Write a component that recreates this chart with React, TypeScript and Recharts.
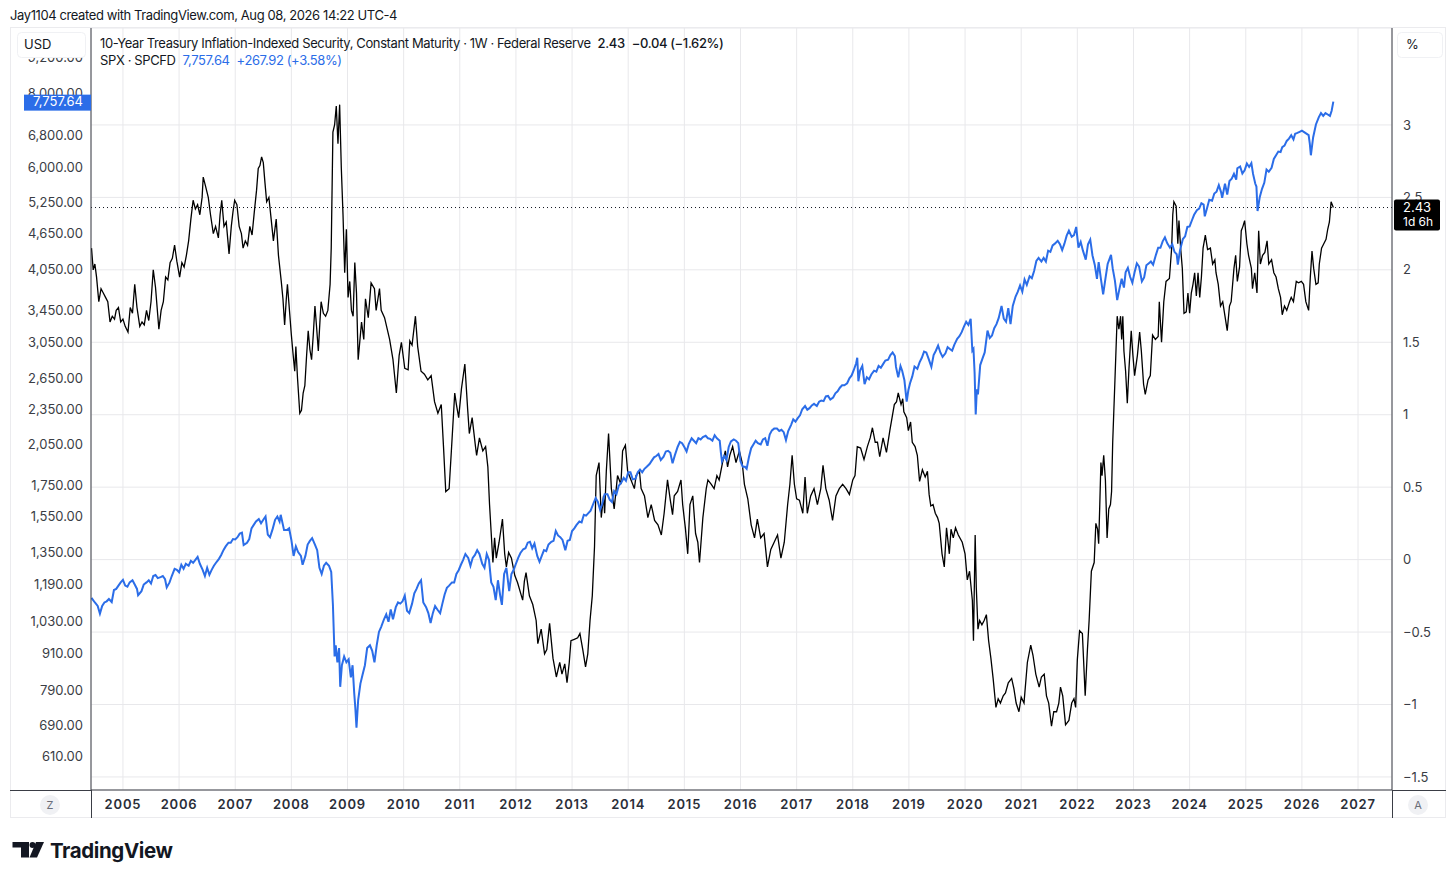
import { ComposedChart, Line, XAxis, YAxis, CartesianGrid, ReferenceLine } from 'recharts';

// 10-Year TIPS yield, weekly (year, %)
const tipsPoints: [number, number][] = [
  [2004.44, 2.15], [2004.47, 2.0], [2004.5, 2.04], [2004.53, 1.95], [2004.57, 1.78], [2004.61, 1.87], [2004.65, 1.84],
  [2004.69, 1.81], [2004.73, 1.78], [2004.77, 1.64], [2004.81, 1.68], [2004.85, 1.66], [2004.88, 1.72], [2004.92, 1.74],
  [2004.96, 1.64], [2005.0, 1.66], [2005.04, 1.61], [2005.09, 1.57], [2005.13, 1.74], [2005.17, 1.7], [2005.21, 1.9],
  [2005.25, 1.74], [2005.3, 1.61], [2005.34, 1.64], [2005.38, 1.62], [2005.42, 1.72], [2005.46, 1.65], [2005.5, 1.78],
  [2005.54, 2.0], [2005.58, 1.88], [2005.64, 1.59], [2005.68, 1.72], [2005.72, 1.78], [2005.76, 1.95], [2005.8, 1.93],
  [2005.84, 2.05], [2005.88, 2.08], [2005.92, 2.17], [2005.96, 2.06], [2006.01, 1.95], [2006.05, 2.05], [2006.09, 2.02],
  [2006.13, 2.1], [2006.17, 2.2], [2006.21, 2.35], [2006.25, 2.48], [2006.29, 2.42], [2006.33, 2.45], [2006.37, 2.38],
  [2006.41, 2.5], [2006.43, 2.64], [2006.47, 2.58], [2006.52, 2.5], [2006.56, 2.38], [2006.61, 2.25], [2006.65, 2.3],
  [2006.7, 2.22], [2006.73, 2.38], [2006.76, 2.48], [2006.8, 2.3], [2006.84, 2.33], [2006.89, 2.11], [2006.93, 2.3],
  [2006.96, 2.4], [2006.99, 2.48], [2007.03, 2.45], [2007.07, 2.3], [2007.11, 2.25], [2007.14, 2.15], [2007.18, 2.2],
  [2007.22, 2.17], [2007.26, 2.3], [2007.3, 2.24], [2007.34, 2.4], [2007.38, 2.55], [2007.41, 2.7], [2007.44, 2.72],
  [2007.47, 2.78], [2007.5, 2.74], [2007.53, 2.6], [2007.56, 2.47], [2007.6, 2.5], [2007.64, 2.35], [2007.68, 2.2],
  [2007.73, 2.35], [2007.77, 2.1], [2007.82, 1.92], [2007.85, 1.8], [2007.88, 1.62], [2007.91, 1.8], [2007.93, 1.9],
  [2007.97, 1.7], [2008.0, 1.55], [2008.03, 1.42], [2008.06, 1.3], [2008.08, 1.47], [2008.11, 1.25], [2008.15, 1.01],
  [2008.18, 1.03], [2008.21, 1.15], [2008.24, 1.2], [2008.27, 1.4], [2008.3, 1.58], [2008.33, 1.45], [2008.36, 1.38],
  [2008.39, 1.55], [2008.42, 1.75], [2008.45, 1.6], [2008.48, 1.44], [2008.51, 1.65], [2008.53, 1.78], [2008.57, 1.7],
  [2008.61, 1.68], [2008.65, 1.72], [2008.69, 1.9], [2008.71, 2.15], [2008.74, 2.95], [2008.77, 3.0], [2008.8, 3.13],
  [2008.83, 2.87], [2008.86, 3.14], [2008.89, 2.7], [2008.92, 2.38], [2008.95, 1.98], [2008.98, 2.28], [2009.01, 1.81],
  [2009.04, 1.92], [2009.07, 1.72], [2009.1, 1.68], [2009.13, 2.05], [2009.16, 1.84], [2009.19, 1.38], [2009.25, 1.64],
  [2009.29, 1.52], [2009.32, 1.8], [2009.37, 1.67], [2009.42, 1.91], [2009.48, 1.87], [2009.51, 1.72], [2009.57, 1.87],
  [2009.6, 1.72], [2009.66, 1.67], [2009.75, 1.52], [2009.81, 1.38], [2009.87, 1.15], [2009.92, 1.41], [2009.96, 1.5],
  [2010.02, 1.32], [2010.08, 1.31], [2010.11, 1.51], [2010.15, 1.48], [2010.21, 1.68], [2010.25, 1.47], [2010.31, 1.3],
  [2010.37, 1.28], [2010.43, 1.24], [2010.49, 1.27], [2010.55, 1.09], [2010.61, 1.01], [2010.67, 1.07], [2010.71, 0.78],
  [2010.75, 0.47], [2010.81, 0.49], [2010.85, 0.75], [2010.91, 1.15], [2010.94, 1.07], [2010.98, 0.98], [2011.03, 1.18],
  [2011.09, 1.35], [2011.14, 1.04], [2011.17, 0.87], [2011.22, 0.98], [2011.28, 0.78], [2011.3, 0.72], [2011.35, 0.84],
  [2011.41, 0.75], [2011.46, 0.78], [2011.5, 0.64], [2011.53, 0.38], [2011.56, 0.18], [2011.59, -0.02], [2011.62, 0.15],
  [2011.65, 0.01], [2011.7, 0.12], [2011.76, 0.28], [2011.8, 0.04], [2011.83, -0.05], [2011.87, 0.05], [2011.92, 0.01],
  [2011.98, -0.11], [2012.03, -0.16], [2012.09, -0.24], [2012.12, -0.28], [2012.15, -0.15], [2012.18, -0.09],
  [2012.24, -0.25], [2012.3, -0.31], [2012.36, -0.42], [2012.39, -0.58], [2012.45, -0.48], [2012.51, -0.65],
  [2012.55, -0.62], [2012.6, -0.44], [2012.66, -0.68], [2012.72, -0.81], [2012.78, -0.71], [2012.82, -0.79],
  [2012.87, -0.72], [2012.91, -0.85], [2012.95, -0.71], [2012.98, -0.56], [2013.04, -0.55], [2013.1, -0.54],
  [2013.14, -0.51], [2013.19, -0.62], [2013.24, -0.74], [2013.28, -0.65], [2013.32, -0.42], [2013.36, -0.25],
  [2013.4, 0.09], [2013.43, 0.58], [2013.48, 0.67], [2013.52, 0.29], [2013.56, 0.44], [2013.58, 0.32], [2013.61, 0.61],
  [2013.65, 0.87], [2013.7, 0.49], [2013.75, 0.35], [2013.81, 0.58], [2013.87, 0.52], [2013.9, 0.75], [2013.95, 0.79],
  [2013.99, 0.61], [2014.05, 0.55], [2014.11, 0.49], [2014.14, 0.58], [2014.2, 0.61], [2014.23, 0.49], [2014.29, 0.44],
  [2014.35, 0.29], [2014.41, 0.38], [2014.47, 0.27], [2014.53, 0.24], [2014.59, 0.17], [2014.64, 0.32], [2014.7, 0.55],
  [2014.75, 0.41], [2014.79, 0.31], [2014.82, 0.44], [2014.88, 0.47], [2014.94, 0.55], [2014.97, 0.38], [2015.02, 0.21],
  [2015.06, 0.04], [2015.1, 0.38], [2015.15, 0.44], [2015.2, 0.18], [2015.24, 0.12], [2015.27, -0.02], [2015.33, 0.29],
  [2015.39, 0.49], [2015.42, 0.55], [2015.48, 0.52], [2015.53, 0.49], [2015.58, 0.58], [2015.62, 0.55], [2015.68, 0.67],
  [2015.73, 0.75], [2015.77, 0.64], [2015.81, 0.72], [2015.86, 0.78], [2015.92, 0.67], [2015.98, 0.75], [2016.03, 0.67],
  [2016.07, 0.52], [2016.13, 0.42], [2016.19, 0.24], [2016.25, 0.15], [2016.3, 0.28], [2016.36, 0.15], [2016.42, 0.18],
  [2016.48, -0.05], [2016.54, 0.07], [2016.6, 0.12], [2016.66, 0.17], [2016.72, 0.01], [2016.78, 0.12], [2016.84, 0.38],
  [2016.88, 0.52], [2016.92, 0.72], [2016.96, 0.52], [2017.0, 0.42], [2017.05, 0.41], [2017.11, 0.32], [2017.15, 0.57],
  [2017.19, 0.32], [2017.25, 0.44], [2017.31, 0.49], [2017.37, 0.38], [2017.43, 0.49], [2017.47, 0.65], [2017.52, 0.49],
  [2017.58, 0.41], [2017.64, 0.27], [2017.7, 0.44], [2017.76, 0.49], [2017.82, 0.52], [2017.88, 0.49], [2017.94, 0.45],
  [2018.0, 0.55], [2018.04, 0.58], [2018.08, 0.78], [2018.14, 0.77], [2018.2, 0.69], [2018.26, 0.78], [2018.31, 0.84],
  [2018.35, 0.91], [2018.4, 0.81], [2018.44, 0.81], [2018.48, 0.71], [2018.54, 0.84], [2018.6, 0.74], [2018.66, 0.89],
  [2018.74, 1.07], [2018.78, 1.09], [2018.81, 1.15], [2018.86, 1.07], [2018.89, 1.11], [2018.91, 1.02], [2018.96, 0.98],
  [2018.99, 0.89], [2019.03, 0.95], [2019.06, 0.81], [2019.11, 0.78], [2019.15, 0.72], [2019.19, 0.54], [2019.24, 0.62],
  [2019.29, 0.57], [2019.33, 0.61], [2019.36, 0.45], [2019.39, 0.37], [2019.43, 0.38], [2019.47, 0.32], [2019.51, 0.29],
  [2019.54, 0.25], [2019.59, 0.04], [2019.63, -0.05], [2019.67, 0.22], [2019.72, 0.04], [2019.75, 0.21], [2019.79, 0.15],
  [2019.83, 0.22], [2019.88, 0.17], [2019.95, 0.12], [2020.0, 0.04], [2020.04, -0.14], [2020.08, -0.08], [2020.13, -0.28],
  [2020.15, -0.56], [2020.18, 0.17], [2020.2, -0.19], [2020.23, -0.48], [2020.26, -0.42], [2020.3, -0.45], [2020.34, -0.42],
  [2020.38, -0.38], [2020.42, -0.56], [2020.46, -0.68], [2020.5, -0.82], [2020.55, -1.02], [2020.59, -0.96], [2020.63, -0.99],
  [2020.68, -0.94], [2020.72, -0.92], [2020.77, -0.85], [2020.83, -0.82], [2020.87, -0.89], [2020.91, -0.99], [2020.96, -1.05],
  [2021.0, -0.95], [2021.05, -0.99], [2021.11, -0.71], [2021.17, -0.59], [2021.21, -0.66], [2021.26, -0.79], [2021.32, -0.88],
  [2021.36, -0.81], [2021.41, -0.79], [2021.45, -0.94], [2021.49, -0.99], [2021.54, -1.15], [2021.58, -1.05], [2021.63, -1.05],
  [2021.67, -0.99], [2021.7, -0.88], [2021.74, -0.94], [2021.79, -1.14], [2021.85, -1.11], [2021.9, -0.99], [2021.94, -0.96],
  [2021.97, -1.02], [2022.0, -0.69], [2022.04, -0.49], [2022.09, -0.51], [2022.14, -0.94], [2022.18, -0.62], [2022.21, -0.42],
  [2022.25, -0.08], [2022.3, -0.02], [2022.33, 0.25], [2022.36, 0.21], [2022.38, 0.11], [2022.4, 0.38], [2022.42, 0.67],
  [2022.44, 0.58], [2022.47, 0.72], [2022.5, 0.55], [2022.53, 0.15], [2022.56, 0.35], [2022.59, 0.38], [2022.61, 0.47],
  [2022.63, 0.81], [2022.67, 1.24], [2022.71, 1.68], [2022.74, 1.59], [2022.77, 1.68], [2022.79, 1.52], [2022.81, 1.68],
  [2022.83, 1.44], [2022.86, 1.3], [2022.89, 1.08], [2022.92, 1.32], [2022.96, 1.58], [2022.99, 1.41], [2023.02, 1.27],
  [2023.07, 1.41], [2023.11, 1.57], [2023.14, 1.44], [2023.18, 1.21], [2023.21, 1.14], [2023.26, 1.24], [2023.3, 1.27],
  [2023.34, 1.55], [2023.39, 1.52], [2023.44, 1.54], [2023.46, 1.78], [2023.5, 1.5], [2023.54, 1.78], [2023.58, 1.92],
  [2023.64, 1.94], [2023.68, 2.15], [2023.7, 2.38], [2023.72, 2.47], [2023.76, 2.44], [2023.79, 2.18], [2023.81, 2.34],
  [2023.84, 2.15], [2023.87, 2.01], [2023.9, 1.7], [2023.94, 1.71], [2023.97, 1.84], [2024.0, 1.7], [2024.03, 1.84],
  [2024.06, 1.9], [2024.09, 1.98], [2024.12, 1.82], [2024.15, 1.98], [2024.18, 1.81], [2024.21, 1.95], [2024.24, 2.15],
  [2024.28, 2.24], [2024.32, 2.14], [2024.37, 2.15], [2024.41, 2.04], [2024.45, 2.07], [2024.47, 1.98], [2024.51, 1.9],
  [2024.55, 1.75], [2024.59, 1.78], [2024.63, 1.68], [2024.67, 1.58], [2024.71, 1.75], [2024.74, 1.78], [2024.79, 2.01],
  [2024.82, 2.1], [2024.85, 1.92], [2024.89, 2.02], [2024.92, 2.27], [2024.95, 2.3], [2024.98, 2.34], [2025.02, 2.18],
  [2025.05, 2.1], [2025.1, 2.01], [2025.12, 1.87], [2025.16, 1.98], [2025.2, 1.84], [2025.23, 2.27], [2025.26, 2.04],
  [2025.3, 2.1], [2025.34, 2.12], [2025.38, 2.2], [2025.41, 2.04], [2025.46, 2.07], [2025.5, 1.98], [2025.54, 1.95],
  [2025.58, 1.87], [2025.62, 1.81], [2025.65, 1.69], [2025.69, 1.75], [2025.73, 1.72], [2025.78, 1.78], [2025.81, 1.81],
  [2025.85, 1.78], [2025.9, 1.92], [2025.94, 1.91], [2025.99, 1.92], [2026.03, 1.9], [2026.07, 1.78], [2026.12, 1.72],
  [2026.15, 1.95], [2026.18, 2.13], [2026.21, 2.01], [2026.25, 1.9], [2026.29, 1.91], [2026.31, 2.04], [2026.35, 2.15],
  [2026.39, 2.18], [2026.43, 2.21], [2026.46, 2.28], [2026.49, 2.33], [2026.52, 2.47], [2026.56, 2.43],
];

// SPX, weekly closes (year, USD)
const spxPoints: [number, number][] = [
  [2004.44, 1130], [2004.5, 1110], [2004.55, 1095], [2004.59, 1063], [2004.63, 1095], [2004.67, 1110], [2004.71, 1115],
  [2004.75, 1125], [2004.8, 1112], [2004.84, 1165], [2004.88, 1170], [2004.92, 1185], [2004.96, 1200], [2005.0, 1212],
  [2005.04, 1185], [2005.08, 1180], [2005.12, 1200], [2005.17, 1210], [2005.21, 1190], [2005.25, 1170], [2005.27, 1142],
  [2005.33, 1160], [2005.37, 1190], [2005.42, 1200], [2005.46, 1210], [2005.5, 1195], [2005.54, 1230], [2005.58, 1235],
  [2005.62, 1220], [2005.67, 1225], [2005.71, 1230], [2005.75, 1215], [2005.78, 1177], [2005.83, 1200], [2005.87, 1230],
  [2005.92, 1265], [2005.96, 1260], [2006.0, 1248], [2006.04, 1285], [2006.08, 1265], [2006.12, 1290], [2006.17, 1280],
  [2006.21, 1305], [2006.25, 1295], [2006.29, 1310], [2006.33, 1325], [2006.37, 1290], [2006.42, 1260], [2006.46, 1230],
  [2006.5, 1270], [2006.54, 1236], [2006.58, 1260], [2006.62, 1280], [2006.67, 1300], [2006.71, 1315], [2006.75, 1335],
  [2006.79, 1360], [2006.83, 1380], [2006.88, 1400], [2006.92, 1400], [2006.96, 1420], [2007.0, 1418], [2007.04, 1430],
  [2007.08, 1450], [2007.12, 1455], [2007.15, 1387], [2007.21, 1400], [2007.25, 1420], [2007.29, 1480], [2007.33, 1500],
  [2007.37, 1520], [2007.42, 1535], [2007.46, 1510], [2007.5, 1530], [2007.54, 1550], [2007.58, 1445], [2007.62, 1430],
  [2007.67, 1480], [2007.71, 1530], [2007.75, 1550], [2007.79, 1520], [2007.81, 1560], [2007.87, 1470], [2007.92, 1470],
  [2007.96, 1480], [2008.0, 1415], [2008.04, 1330], [2008.08, 1380], [2008.12, 1350], [2008.17, 1330], [2008.2, 1285],
  [2008.25, 1330], [2008.29, 1390], [2008.33, 1410], [2008.37, 1425], [2008.42, 1390], [2008.46, 1360], [2008.5, 1270],
  [2008.54, 1240], [2008.58, 1280], [2008.62, 1295], [2008.67, 1280], [2008.71, 1250], [2008.74, 1100], [2008.77, 900],
  [2008.79, 940], [2008.82, 880], [2008.85, 930], [2008.87, 800], [2008.9, 870], [2008.94, 900], [2008.98, 880],
  [2009.02, 890], [2009.06, 830], [2009.09, 870], [2009.12, 780], [2009.14, 735], [2009.16, 683], [2009.19, 760],
  [2009.23, 810], [2009.27, 840], [2009.31, 870], [2009.35, 930], [2009.4, 940], [2009.44, 920], [2009.48, 880],
  [2009.52, 940], [2009.56, 990], [2009.6, 1010], [2009.65, 1040], [2009.69, 1060], [2009.73, 1030], [2009.77, 1080],
  [2009.81, 1040], [2009.86, 1090], [2009.9, 1110], [2009.94, 1105], [2009.98, 1115], [2010.02, 1140], [2010.06, 1075],
  [2010.1, 1065], [2010.15, 1105], [2010.19, 1150], [2010.23, 1170], [2010.27, 1195], [2010.31, 1210], [2010.35, 1110],
  [2010.4, 1090], [2010.44, 1065], [2010.48, 1025], [2010.52, 1065], [2010.56, 1095], [2010.6, 1080], [2010.65, 1065],
  [2010.69, 1105], [2010.73, 1145], [2010.77, 1175], [2010.81, 1185], [2010.86, 1200], [2010.9, 1200], [2010.94, 1240],
  [2010.98, 1258], [2011.02, 1285], [2011.06, 1310], [2011.1, 1340], [2011.15, 1320], [2011.19, 1280], [2011.23, 1320],
  [2011.27, 1335], [2011.31, 1360], [2011.35, 1340], [2011.4, 1290], [2011.44, 1270], [2011.48, 1340], [2011.52, 1310],
  [2011.56, 1200], [2011.6, 1180], [2011.64, 1120], [2011.68, 1210], [2011.72, 1140], [2011.75, 1100], [2011.79, 1240],
  [2011.83, 1270], [2011.88, 1160], [2011.92, 1240], [2011.96, 1260], [2012.0, 1290], [2012.04, 1320], [2012.08, 1345],
  [2012.13, 1365], [2012.17, 1370], [2012.21, 1400], [2012.25, 1405], [2012.29, 1370], [2012.33, 1395], [2012.38, 1330],
  [2012.42, 1300], [2012.46, 1330], [2012.5, 1360], [2012.54, 1355], [2012.58, 1390], [2012.63, 1405], [2012.67, 1410],
  [2012.71, 1465], [2012.75, 1440], [2012.79, 1430], [2012.83, 1415], [2012.88, 1360], [2012.92, 1410], [2012.96, 1415],
  [2013.0, 1465], [2013.04, 1480], [2013.08, 1500], [2013.13, 1520], [2013.17, 1515], [2013.21, 1560], [2013.25, 1555],
  [2013.29, 1570], [2013.33, 1585], [2013.38, 1630], [2013.42, 1665], [2013.46, 1640], [2013.5, 1590], [2013.54, 1630],
  [2013.58, 1690], [2013.63, 1690], [2013.67, 1655], [2013.71, 1640], [2013.75, 1710], [2013.79, 1690], [2013.83, 1745],
  [2013.88, 1770], [2013.92, 1800], [2013.96, 1780], [2014.0, 1840], [2014.04, 1840], [2014.08, 1790], [2014.13, 1795],
  [2014.17, 1840], [2014.21, 1860], [2014.25, 1840], [2014.29, 1865], [2014.33, 1880], [2014.38, 1900], [2014.42, 1925],
  [2014.46, 1950], [2014.5, 1960], [2014.54, 1975], [2014.58, 1930], [2014.63, 1955], [2014.67, 1995], [2014.71, 2000],
  [2014.75, 1985], [2014.79, 1905], [2014.83, 1965], [2014.88, 2030], [2014.92, 2070], [2014.96, 2060], [2015.0, 2030],
  [2015.04, 1995], [2015.08, 2055], [2015.13, 2100], [2015.17, 2080], [2015.21, 2060], [2015.25, 2100], [2015.29, 2090],
  [2015.33, 2110], [2015.38, 2120], [2015.42, 2100], [2015.46, 2095], [2015.5, 2080], [2015.54, 2125], [2015.58, 2100],
  [2015.63, 2080], [2015.65, 1990], [2015.67, 1920], [2015.71, 1960], [2015.75, 1930], [2015.79, 2030], [2015.83, 2075],
  [2015.88, 2090], [2015.92, 2080], [2015.96, 2060], [2016.0, 1920], [2016.04, 1880], [2016.08, 1880], [2016.11, 1865],
  [2016.15, 1950], [2016.19, 2020], [2016.23, 2050], [2016.27, 2080], [2016.31, 2060], [2016.36, 2050], [2016.4, 2090],
  [2016.44, 2100], [2016.48, 2040], [2016.52, 2130], [2016.56, 2165], [2016.6, 2180], [2016.65, 2180], [2016.69, 2160],
  [2016.73, 2170], [2016.77, 2150], [2016.81, 2085], [2016.85, 2160], [2016.9, 2210], [2016.94, 2260], [2016.98, 2240],
  [2017.02, 2270], [2017.06, 2295], [2017.1, 2350], [2017.15, 2380], [2017.19, 2345], [2017.23, 2360], [2017.27, 2385],
  [2017.31, 2400], [2017.36, 2380], [2017.4, 2420], [2017.44, 2430], [2017.48, 2425], [2017.52, 2470], [2017.56, 2475],
  [2017.6, 2440], [2017.65, 2460], [2017.69, 2500], [2017.73, 2520], [2017.77, 2555], [2017.81, 2580], [2017.85, 2580],
  [2017.9, 2600], [2017.94, 2650], [2017.98, 2680], [2018.02, 2740], [2018.06, 2810], [2018.08, 2870], [2018.1, 2620],
  [2018.13, 2730], [2018.17, 2780], [2018.21, 2590], [2018.25, 2660], [2018.29, 2640], [2018.33, 2690], [2018.38, 2730],
  [2018.42, 2720], [2018.46, 2780], [2018.5, 2760], [2018.54, 2800], [2018.58, 2840], [2018.63, 2850], [2018.67, 2900],
  [2018.71, 2930], [2018.75, 2890], [2018.77, 2770], [2018.81, 2660], [2018.85, 2780], [2018.88, 2730], [2018.92, 2630],
  [2018.96, 2420], [2018.99, 2530], [2019.02, 2600], [2019.06, 2670], [2019.1, 2775], [2019.15, 2750], [2019.19, 2820],
  [2019.23, 2870], [2019.27, 2940], [2019.31, 2930], [2019.35, 2860], [2019.4, 2770], [2019.44, 2900], [2019.48, 2950],
  [2019.52, 3010], [2019.56, 2930], [2019.6, 2880], [2019.65, 2920], [2019.69, 2990], [2019.73, 2970], [2019.77, 2950],
  [2019.81, 3020], [2019.86, 3090], [2019.9, 3120], [2019.94, 3170], [2019.98, 3240], [2020.02, 3300], [2020.06, 3260],
  [2020.1, 3340], [2020.13, 2950], [2020.15, 2970], [2020.17, 2710], [2020.19, 2304], [2020.21, 2540], [2020.23, 2490],
  [2020.27, 2790], [2020.31, 2860], [2020.35, 2930], [2020.4, 3190], [2020.44, 3100], [2020.48, 3130], [2020.52, 3220],
  [2020.56, 3270], [2020.6, 3350], [2020.65, 3510], [2020.69, 3340], [2020.73, 3300], [2020.77, 3480], [2020.81, 3270],
  [2020.85, 3510], [2020.9, 3640], [2020.94, 3710], [2020.98, 3800], [2021.02, 3710], [2021.06, 3890], [2021.1, 3810],
  [2021.15, 3940], [2021.19, 3910], [2021.23, 4020], [2021.27, 4180], [2021.31, 4230], [2021.36, 4170], [2021.4, 4230],
  [2021.44, 4170], [2021.48, 4350], [2021.52, 4330], [2021.56, 4440], [2021.6, 4470], [2021.65, 4520], [2021.69, 4460],
  [2021.73, 4360], [2021.77, 4470], [2021.81, 4610], [2021.85, 4700], [2021.9, 4590], [2021.94, 4620], [2021.98, 4770],
  [2022.02, 4400], [2022.06, 4500], [2022.1, 4350], [2022.15, 4200], [2022.19, 4460], [2022.23, 4540], [2022.27, 4270],
  [2022.31, 4120], [2022.35, 3900], [2022.38, 4160], [2022.42, 3900], [2022.46, 3670], [2022.5, 3900], [2022.54, 4130],
  [2022.6, 4280], [2022.63, 4060], [2022.67, 3870], [2022.71, 3590], [2022.75, 3750], [2022.79, 3900], [2022.83, 3770],
  [2022.86, 4000], [2022.9, 4070], [2022.94, 3930], [2022.98, 3840], [2023.02, 4000], [2023.06, 4140], [2023.1, 4090],
  [2023.15, 3860], [2023.19, 3920], [2023.23, 4110], [2023.27, 4140], [2023.31, 4170], [2023.35, 4120], [2023.4, 4280],
  [2023.44, 4400], [2023.48, 4400], [2023.52, 4510], [2023.56, 4580], [2023.6, 4480], [2023.65, 4400], [2023.69, 4460],
  [2023.73, 4330], [2023.77, 4290], [2023.79, 4120], [2023.83, 4360], [2023.88, 4550], [2023.92, 4600], [2023.96, 4770],
  [2024.0, 4780], [2024.04, 4890], [2024.08, 5000], [2024.13, 5090], [2024.17, 5120], [2024.21, 5230], [2024.25, 5200],
  [2024.27, 4970], [2024.31, 5130], [2024.35, 5300], [2024.4, 5280], [2024.44, 5430], [2024.48, 5470], [2024.52, 5610],
  [2024.56, 5460], [2024.58, 5340], [2024.63, 5640], [2024.67, 5410], [2024.71, 5700], [2024.75, 5750], [2024.79, 5860],
  [2024.83, 5730], [2024.85, 5990], [2024.9, 6030], [2024.94, 5870], [2024.98, 5940], [2025.02, 6100], [2025.06, 6020],
  [2025.1, 6110], [2025.13, 5860], [2025.17, 5640], [2025.19, 5580], [2025.21, 5074], [2025.25, 5360], [2025.29, 5530],
  [2025.33, 5660], [2025.37, 5960], [2025.41, 5910], [2025.46, 6000], [2025.5, 6210], [2025.54, 6300], [2025.58, 6390],
  [2025.62, 6380], [2025.65, 6500], [2025.69, 6540], [2025.73, 6660], [2025.77, 6720], [2025.81, 6810], [2025.85, 6700],
  [2025.88, 6850], [2025.92, 6870], [2025.96, 6900], [2026.0, 6930], [2026.04, 6890], [2026.08, 6850], [2026.12, 6810],
  [2026.14, 6600], [2026.16, 6300], [2026.2, 6750], [2026.25, 7100], [2026.3, 7300], [2026.34, 7420], [2026.38, 7340],
  [2026.42, 7420], [2026.46, 7380], [2026.5, 7340], [2026.53, 7489.72], [2026.56, 7757.64],
];

const years = [2005, 2006, 2007, 2008, 2009, 2010, 2011, 2012, 2013, 2014, 2015, 2016, 2017, 2018, 2019, 2020, 2021, 2022, 2023, 2024, 2025, 2026, 2027];
const spxTicks = [610, 690, 790, 910, 1030, 1190, 1350, 1550, 1750, 2050, 2350, 2650, 3050, 3450, 4050, 4650, 5250, 6000, 6800, 8000, 9200];
const tipsTicks = [-1.5, -1, -0.5, 0, 0.5, 1, 1.5, 2, 2.5, 3];

type Row = { t: number; spx?: number; tips?: number };

const byTime = new Map<number, Row>();
spxPoints.forEach(([t, v]) => {
  const r = byTime.get(t) ?? { t };
  r.spx = v;
  byTime.set(t, r);
});
tipsPoints.forEach(([t, v]) => {
  const r = byTime.get(t) ?? { t };
  r.tips = v;
  byTime.set(t, r);
});
const chartData = [...byTime.values()].sort((a, b) => a.t - b.t);

const BLUE = '#2b6de8';
const INK = '#131722';
const AXIS = '#3a3d45';
const FONT = 'Inter, "Noto Sans", sans-serif';

const lastSpx = spxPoints[spxPoints.length - 1][1];
const prevSpx = spxPoints[spxPoints.length - 2][1];
const lastTips = tipsPoints[tipsPoints.length - 1][1];
const prevTips = tipsPoints[tipsPoints.length - 2][1];

const fmtMoney = (v: number) =>
  v.toLocaleString('en-US', { minimumFractionDigits: 2, maximumFractionDigits: 2 });
const fmtSigned = (v: number, digits: number) =>
  (v < 0 ? '\u2212' : '+') + Math.abs(v).toLocaleString('en-US', { minimumFractionDigits: digits, maximumFractionDigits: digits });
const fmtPct = (v: number) => (v < 0 ? '\u2212' + String(Math.abs(v)) : String(v));

const spxChange = fmtSigned(lastSpx - prevSpx, 2) + ' (' + fmtSigned(((lastSpx - prevSpx) / prevSpx) * 100, 2) + '%)';
const tipsChange = fmtSigned(lastTips - prevTips, 2) + ' (' + fmtSigned(((lastTips - prevTips) / prevTips) * 100, 2) + '%)';

const MARGIN = { top: 28, right: 10, left: 10, bottom: 62 };
const X_DOMAIN: [number, number] = [2004.431, 2027.605];
const SPX_DOMAIN: [number, number] = [536, 10325];
const TIPS_DOMAIN: [number, number] = [-1.59, 3.669];

// price tag on the left scale
const SpxTag = (props: any) => {
  const { viewBox } = props;
  const x = viewBox.x;
  const y = viewBox.y;
  return (
    <g>
      <rect x={x - 67} y={y - 7} width={67} height={16} fill={BLUE} />
      <text x={x - 8} y={y + 1} textAnchor="end" dominantBaseline="middle" fontSize={13} fill="#fff" fontFamily={FONT}>
        {fmtMoney(lastSpx)}
      </text>
    </g>
  );
};

// price tag on the right scale
const TipsTag = (props: any) => {
  const { viewBox } = props;
  const x = viewBox.x + viewBox.width + 2;
  const y = viewBox.y;
  return (
    <g>
      <rect x={x} y={y - 8} width={46} height={31} rx={2} fill="#000" />
      <text x={x + 9} y={y + 1} dominantBaseline="middle" fontSize={13} fill="#fff" fontFamily={FONT}>
        {lastTips.toFixed(2)}
      </text>
      <text x={x + 9} y={y + 15} dominantBaseline="middle" fontSize={12} fill="#fff" fontFamily={FONT}>
        1d 6h
      </text>
    </g>
  );
};

export default function App() {
  return (
    <div style={{ position: 'absolute', left: 0, top: 0, width: 1456, height: 880, background: '#fff', overflow: 'hidden', fontFamily: FONT }}>
      <div style={{ position: 'absolute', left: 10, top: 7, fontSize: 13, color: INK, whiteSpace: 'nowrap', letterSpacing: -0.4 }}>
        Jay1104 created with TradingView.com, Aug 08, 2026 14:22 UTC-4
      </div>

      <ComposedChart width={1456} height={880} data={chartData} margin={MARGIN} style={{ position: 'absolute', left: 0, top: 0 }}>
        <CartesianGrid yAxisId="tips" stroke="#e8e8eb" strokeWidth={1} />
        <XAxis
          type="number"
          dataKey="t"
          domain={X_DOMAIN}
          ticks={years}
          allowDataOverflow
          height={28}
          tickSize={0}
          tickMargin={10}
          axisLine={{ stroke: AXIS }}
          tickLine={false}
          tick={{ fontSize: 13, fontWeight: 600, fill: '#2a2e39', fontFamily: FONT, letterSpacing: 0.8 }}
        />
        <YAxis
          yAxisId="spx"
          orientation="left"
          scale="log"
          domain={SPX_DOMAIN}
          allowDataOverflow
          ticks={spxTicks}
          width={81}
          tickSize={0}
          tickMargin={8}
          axisLine={{ stroke: AXIS }}
          tickLine={false}
          tickFormatter={fmtMoney}
          tick={{ fontSize: 13, fill: AXIS, fontFamily: FONT }}
        />
        <YAxis
          yAxisId="tips"
          orientation="right"
          domain={TIPS_DOMAIN}
          allowDataOverflow
          ticks={tipsTicks}
          width={54}
          tickSize={0}
          tickMargin={11}
          axisLine={{ stroke: AXIS }}
          tickLine={false}
          tickFormatter={fmtPct}
          tick={{ fontSize: 13, fill: AXIS, fontFamily: FONT, textAnchor: 'start' }}
        />
        <ReferenceLine yAxisId="tips" y={lastTips} stroke={INK} strokeDasharray="1 3" strokeWidth={1} />
        <Line yAxisId="tips" type="linear" dataKey="tips" stroke="#000" strokeWidth={1.3} dot={false} connectNulls isAnimationActive={false} />
        <Line yAxisId="spx" type="linear" dataKey="spx" stroke={BLUE} strokeWidth={2} dot={false} connectNulls isAnimationActive={false} />
      </ComposedChart>

      {/* same scales again, only for the price tags that sit on top of the axis labels */}
      <ComposedChart width={1456} height={880} data={chartData} margin={MARGIN} style={{ position: 'absolute', left: 0, top: 0 }}>
        <XAxis type="number" dataKey="t" domain={X_DOMAIN} allowDataOverflow height={28} tick={false} axisLine={false} tickLine={false} />
        <YAxis yAxisId="spx" orientation="left" scale="log" domain={SPX_DOMAIN} allowDataOverflow width={81} tick={false} axisLine={false} tickLine={false} />
        <YAxis yAxisId="tips" orientation="right" domain={TIPS_DOMAIN} allowDataOverflow width={54} tick={false} axisLine={false} tickLine={false} />
        <ReferenceLine yAxisId="tips" y={lastTips} stroke="none" label={TipsTag} />
        <ReferenceLine yAxisId="spx" y={lastSpx} stroke="none" label={SpxTag} />
      </ComposedChart>

      <svg width={1456} height={880} style={{ position: 'absolute', left: 0, top: 0, pointerEvents: 'none' }}>
        {/* frame */}
        <rect x={10.5} y={27.5} width={1435} height={790} fill="none" stroke="#ebebee" />
        <line x1={91.5} y1={790} x2={91.5} y2={818} stroke={AXIS} />
        <line x1={1392.5} y1={790} x2={1392.5} y2={818} stroke={AXIS} />
        <line x1={10} y1={790.5} x2={91} y2={790.5} stroke={AXIS} />
        <line x1={1392} y1={790.5} x2={1446} y2={790.5} stroke={AXIS} />
        {/* scale buttons */}
        <rect x={17.5} y={32.5} width={68} height={25} rx={4} fill="#fff" stroke="#f0f1f4" />
        <text x={24} y={45} dominantBaseline="middle" fontSize={13} fill={INK} fontFamily={FONT}>USD</text>
        <rect x={1397.5} y={32.5} width={45} height={25} rx={4} fill="#fff" stroke="#f0f1f4" />
        <text x={1406} y={45} dominantBaseline="middle" fontSize={13} fill={INK} fontFamily={FONT}>%</text>
        <circle cx={50} cy={805} r={10} fill="#f0f1f4" />
        <text x={50} y={806} textAnchor="middle" dominantBaseline="middle" fontSize={11} fill="#6a6d78" fontFamily={FONT}>Z</text>
        <circle cx={1418} cy={805} r={10} fill="#f0f1f4" />
        <text x={1418} y={806} textAnchor="middle" dominantBaseline="middle" fontSize={11} fill="#6a6d78" fontFamily={FONT}>A</text>
        {/* TradingView logo */}
        <path d="M12.5 842 H29 V857.5 H21 V847.5 H12.5 Z" fill={INK} />
        <circle cx={32.5} cy={845} r={3} fill={INK} />
        <path d="M36 842 H44 L37 857.5 H29.5 Z" fill={INK} />
        <text x={50} y={857.5} fontSize={20.5} fontWeight={700} fill={INK} fontFamily={FONT} letterSpacing={-0.4}>TradingView</text>
      </svg>

      <div style={{ position: 'absolute', left: 100, top: 35, fontSize: 13, color: INK, whiteSpace: 'nowrap', lineHeight: '17px', letterSpacing: -0.38 }}>
        <div>
          <span>10-Year Treasury Inflation-Indexed Security, Constant Maturity · 1W · Federal Reserve</span>
          <span style={{ marginLeft: 7, fontWeight: 500 }}>{lastTips.toFixed(2)}</span>
          <span style={{ marginLeft: 7, fontWeight: 500 }}>{tipsChange}</span>
        </div>
        <div>
          <span>SPX · SPCFD</span>
          <span style={{ marginLeft: 7, color: BLUE }}>{fmtMoney(lastSpx)}</span>
          <span style={{ marginLeft: 7, color: BLUE }}>{spxChange}</span>
        </div>
      </div>
    </div>
  );
}
